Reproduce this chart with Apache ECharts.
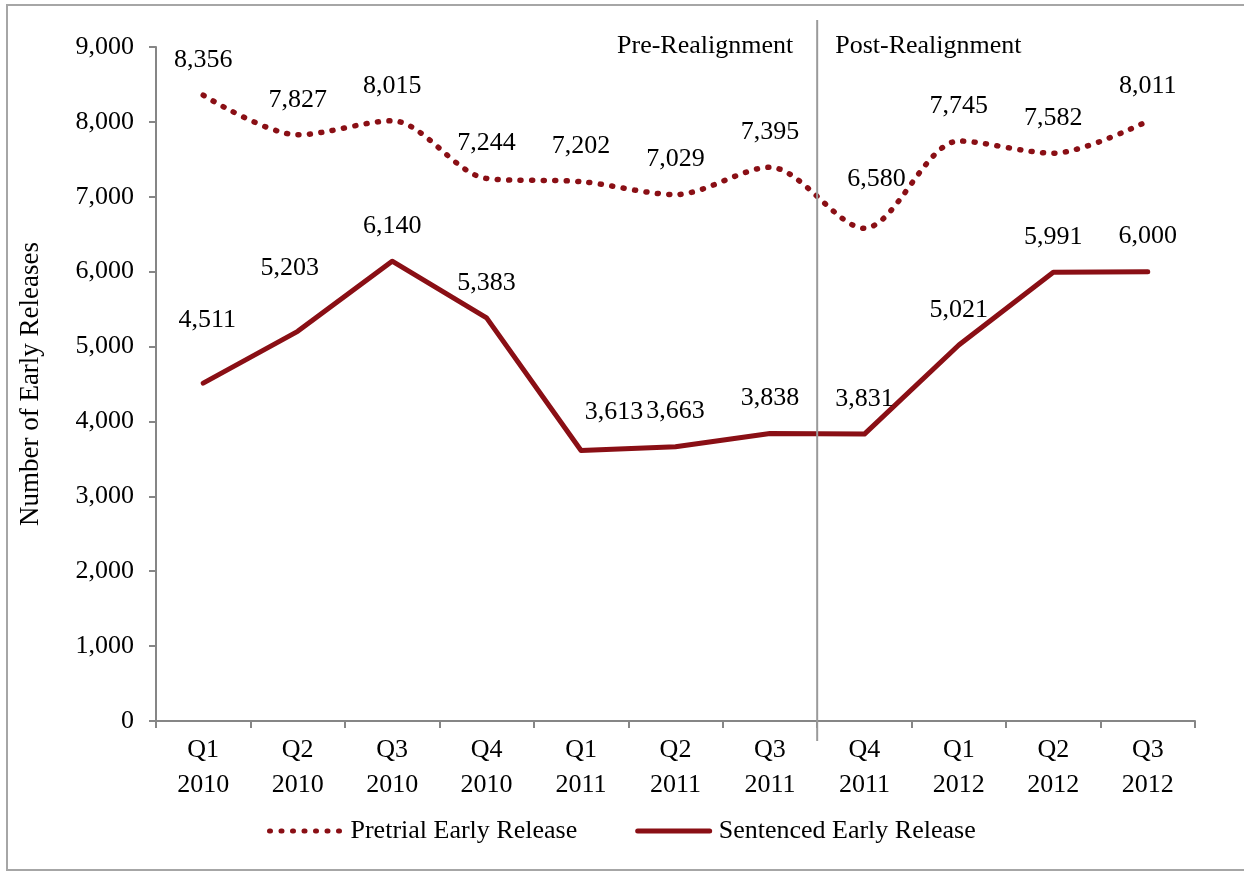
<!DOCTYPE html>
<html>
<head>
<meta charset="utf-8">
<script src="https://cdn.jsdelivr.net/npm/echarts@6/dist/echarts.min.js"></script>
<style>
	html, body { margin: 0; padding: 0; background: #fff; }
	#main { width: 1244px; height: 871px; }
</style>
</head>
<body>
<div id="main"></div>
<script>
	// categories / values
	var quarters = ["Q1\n2010", "Q2\n2010", "Q3\n2010", "Q4\n2010", "Q1\n2011", "Q2\n2011", "Q3\n2011", "Q4\n2011", "Q1\n2012", "Q2\n2012", "Q3\n2012"];
	var pretrial = [8356, 7827, 8015, 7244, 7202, 7029, 7395, 6580, 7745, 7582, 8011];
	var sentenced = [4511, 5203, 6140, 5383, 3613, 3663, 3838, 3831, 5021, 5991, 6000];
	var yTicks = [0, 1000, 2000, 3000, 4000, 5000, 6000, 7000, 8000, 9000];
	var splitAfter = 6; // realignment between Q3 2011 and Q4 2011

	// labels that were nudged by hand in the original
	var pretrialNudge = { 7: [12, -14] };
	var sentencedNudge = { 0: [4, -28], 1: [-8, -28], 4: [33, -3] };

	var red = "#8a0f15";
	var clear = "rgba(0,0,0,0)";
	var font = "'Liberation Serif', 'Times New Roman', serif";

	function fmt(v) {
		return v.toLocaleString("en-US");
	}

	function withNudge(values, nudge) {
		return values.map(function(v, i) {
			var item = { value: v };
			if(nudge[i]) item.label = { offset: nudge[i] };
			return item;
		});
	}

	var chart = echarts.init(document.getElementById("main"));

	var labelStyle = {
		show: true,
		position: "top",
		distance: 22,
		color: "#000",
		fontFamily: font,
		fontSize: 26,
		formatter: function(p) { return fmt(p.value); }
	};

	chart.setOption({
		backgroundColor: "#fff",
		animation: false,
		textStyle: { fontFamily: font },
		grid: { left: 156, right: 49, top: 47, bottom: 150 },
		legend: {
			bottom: 22,
			left: 262,
			itemWidth: 72,
			itemHeight: 14,
			itemGap: 58,
			lineStyle: { width: 5 },
			textStyle: { fontFamily: font, fontSize: 26, color: "#000", padding: [0, 0, 0, 4] },
			data: ["Pretrial Early Release", "Sentenced Early Release"]
		},
		xAxis: {
			type: "category",
			data: quarters,
			boundaryGap: true,
			axisLine: { lineStyle: { color: "#868686", width: 2 } },
			axisTick: { show: true, length: 7, lineStyle: { color: "#868686", width: 2 } },
			axisLabel: { color: "#000", fontFamily: font, fontSize: 26, lineHeight: 35, margin: 12 },
			splitLine: { show: false }
		},
		yAxis: {
			type: "value",
			min: yTicks[0],
			max: yTicks[yTicks.length - 1],
			interval: 1000,
			name: "Number of Early Releases",
			nameLocation: "middle",
			nameGap: 112,
			nameTextStyle: { color: "#000", fontFamily: font, fontSize: 27 },
			axisLine: { show: true, lineStyle: { color: "#868686", width: 2 } },
			axisTick: { show: true, length: 7, lineStyle: { color: "#868686", width: 2 } },
			axisLabel: { color: "#000", fontFamily: font, fontSize: 26, margin: 22, formatter: fmt },
			splitLine: { show: false }
		},
		series: [{
			name: "Pretrial Early Release",
			type: "line",
			data: withNudge(pretrial, pretrialNudge),
			smooth: 0.3,
			symbol: "circle",
			symbolSize: 0.1,
			itemStyle: { color: clear, borderWidth: 0 },
			lineStyle: { color: red, width: 5.5, type: [1, 10.5], cap: "round" },
			label: labelStyle
		}, {
			name: "Sentenced Early Release",
			type: "line",
			data: withNudge(sentenced, sentencedNudge),
			smooth: false,
			symbol: "circle",
			symbolSize: 0.1,
			itemStyle: { color: clear, borderWidth: 0 },
			lineStyle: { color: red, width: 5, cap: "round", join: "round" },
			label: labelStyle
		}]
	});

	// realignment divider between two categories, placed from the axis scale
	var xa = chart.convertToPixel({ xAxisIndex: 0 }, splitAfter);
	var xb = chart.convertToPixel({ xAxisIndex: 0 }, splitAfter + 1);
	var xs = (xa + xb) / 2;
	var yBottom = chart.convertToPixel({ yAxisIndex: 0 }, yTicks[0]);

	chart.setOption({
		graphic: [{
			type: "rect",
			shape: { x: 7, y: 5, width: 1260, height: 865 },
			style: { fill: null, stroke: "#a6a6a6", lineWidth: 2 },
			silent: true
		}, {
			type: "line",
			shape: { x1: xs, y1: 20, x2: xs, y2: yBottom + 20 },
			style: { stroke: "#9a9a9a", lineWidth: 2 },
			z: 10
		}, {
			type: "text",
			x: xs - 24,
			y: 46,
			style: { text: "Pre-Realignment", fill: "#000", font: "26px " + font, textAlign: "right", textVerticalAlign: "middle" }
		}, {
			type: "text",
			x: xs + 18,
			y: 46,
			style: { text: "Post-Realignment", fill: "#000", font: "26px " + font, textAlign: "left", textVerticalAlign: "middle" }
		}]
	});
</script>
</body>
</html>
